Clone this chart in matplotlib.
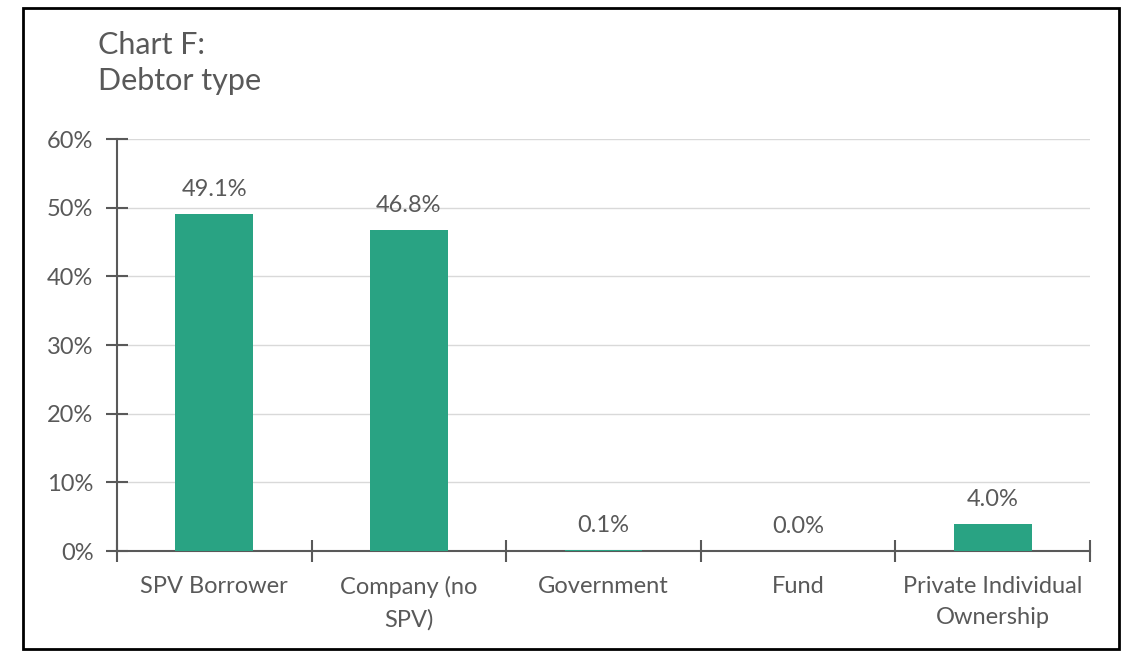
import matplotlib
matplotlib.use('Agg')
import matplotlib.pyplot as plt
from matplotlib.patches import Rectangle

categories = ['SPV Borrower', 'Company (no\nSPV)', 'Government', 'Fund', 'Private Individual\nOwnership']
shares = [49.1, 46.8, 0.1, 0.0, 4.0]
y_ticks = [0, 10, 20, 30, 40, 50, 60]

plt.rcParams['font.family'] = ['Lato', 'DejaVu Sans']
text_grey = '#595959'
bar_green = '#29A383'

fig = plt.figure(figsize=(11.4, 6.56), dpi=100)
ax = fig.add_axes([117 / 1140, 1 - 551 / 656, (1090 - 117) / 1140, (551 - 139) / 656])

x = list(range(len(categories)))
ax.bar(x, shares, width=0.4, color=bar_green, zorder=3)

for xi, v in zip(x, shares):
    ax.annotate('{:.1f}%'.format(v), (xi, v), xytext=(0, 10), textcoords='offset points',
                ha='center', va='bottom', fontsize=17, color=text_grey)

ax.set_xlim(-0.5, len(categories) - 0.5)
ax.set_ylim(0, 60)
ax.set_yticks(y_ticks)
ax.set_yticklabels(['{}%'.format(t) for t in y_ticks])
ax.yaxis.grid(True, color='#D9D9D9', linewidth=1, zorder=0)

# category boundaries get the ticks, labels sit in the middle
ax.set_xticks([i - 0.5 for i in range(len(categories) + 1)])
ax.set_xticklabels([])
ax.set_xticks(x, minor=True)
ax.set_xticklabels(categories, minor=True, fontsize=17, color=text_grey, linespacing=1.6)
ax.tick_params(axis='x', which='minor', length=0, pad=18)
ax.tick_params(axis='x', which='major', direction='inout', length=16, width=1.5, color=text_grey)
ax.tick_params(axis='y', direction='inout', length=16, width=1.5, color=text_grey,
               labelsize=17, labelcolor=text_grey, pad=9)

for side in ['top', 'right']:
    ax.spines[side].set_visible(False)
for side in ['left', 'bottom']:
    ax.spines[side].set_color(text_grey)
    ax.spines[side].set_linewidth(1.5)

fig.text(98 / 1140, 1 - 45 / 656, 'Chart F:', fontsize=22, color=text_grey, va='center', ha='left')
fig.text(98 / 1140, 1 - 81 / 656, 'Debtor type', fontsize=22, color=text_grey, va='center', ha='left')

fig.patches.append(Rectangle((23 / 1140, 1 - 649 / 656), (1119 - 23) / 1140, (649 - 8) / 656,
                             transform=fig.transFigure, fill=False, edgecolor='black', linewidth=2))

plt.savefig('out.png', dpi=100)
